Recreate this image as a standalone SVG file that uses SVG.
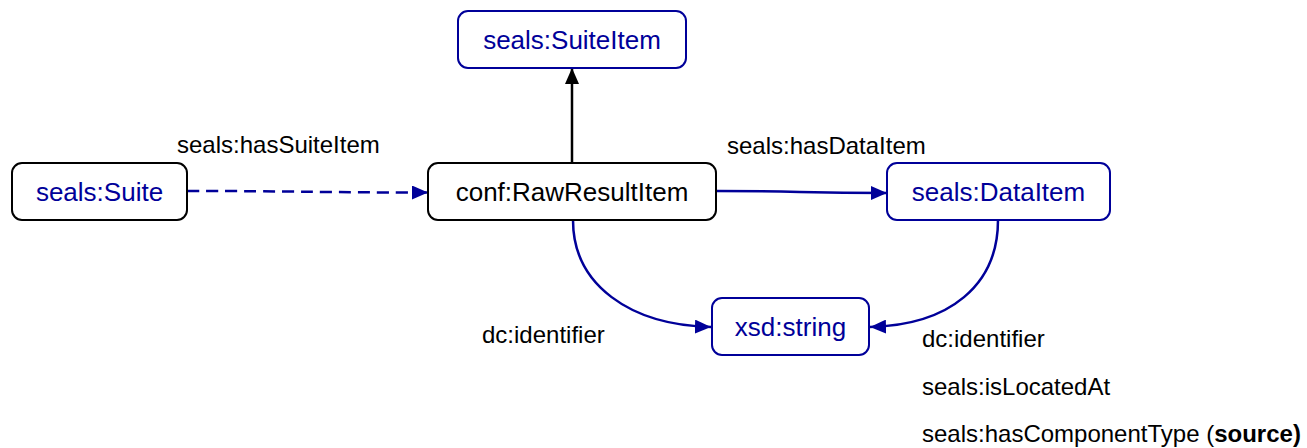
<svg xmlns="http://www.w3.org/2000/svg" width="1307" height="448" viewBox="0 0 1307 448">
<style>
.box{fill:#fff;stroke-width:2}
.blue{stroke:#000099}
.black{stroke:#000}
.nt{font-family:"Liberation Sans",Arial,sans-serif;font-size:26px;text-anchor:middle}
.nb{fill:#000099}
.nk{fill:#000}
.lbl{font-family:"Liberation Sans",Arial,sans-serif;font-size:24px;fill:#000}
.edge{fill:none;stroke-width:2.5}
</style>
<defs>
<marker id="ab" markerUnits="userSpaceOnUse" markerWidth="16" markerHeight="14" refX="16" refY="7" orient="auto">
<path d="M0,0 L16,7 L0,14 Z" fill="#000099"/>
</marker>
<marker id="ak" markerUnits="userSpaceOnUse" markerWidth="16" markerHeight="14" refX="16" refY="7" orient="auto">
<path d="M0,0 L16,7 L0,14 Z" fill="#000"/>
</marker>
</defs>
<g id="connectors">
<path class="edge black" d="M572,163 L572,68" marker-end="url(#ak)"/>
<path class="edge blue" d="M187,191 C300,191 310,192.5 428,192.5" stroke-dasharray="12,7" marker-end="url(#ab)"/>
<path class="edge blue" d="M716,191 C800,191 800,193 887,193" marker-end="url(#ab)"/>
<path class="edge blue" d="M573,220 C573,285 630,325 711,327" marker-end="url(#ab)"/>
<path class="edge blue" d="M998,220 C998,285 950,325 870,327" marker-end="url(#ab)"/>
</g>
<g id="labels">
<text class="lbl" x="177" y="153">seals:hasSuiteItem</text>
<text class="lbl" x="727" y="154">seals:hasDataItem</text>
<text class="lbl" x="482" y="343">dc:identifier</text>
<text class="lbl" x="922" y="347">dc:identifier</text>
<text class="lbl" x="922" y="395">seals:isLocatedAt</text>
<text class="lbl" x="922" y="442">seals:hasComponentType (<tspan font-weight="bold">source)</tspan></text>
</g>
<g id="node-suiteitem">
<rect class="box blue" x="458" y="11" width="228" height="57" rx="10"/>
<text class="nt nb" x="572" y="49">seals:SuiteItem</text>
</g>
<g id="node-suite">
<rect class="box black" x="12" y="163" width="175" height="57" rx="10"/>
<text class="nt nb" x="99.5" y="201">seals:Suite</text>
</g>
<g id="node-rawresultitem">
<rect class="box black" x="428" y="163" width="288" height="57" rx="10"/>
<text class="nt nk" x="572" y="201">conf:RawResultItem</text>
</g>
<g id="node-dataitem">
<rect class="box blue" x="887" y="163" width="223" height="57" rx="10"/>
<text class="nt nb" x="998.5" y="201">seals:DataItem</text>
</g>
<g id="node-xsdstring">
<rect class="box blue" x="712" y="298" width="157" height="57" rx="10"/>
<text class="nt nb" x="790.5" y="336">xsd:string</text>
</g>
</svg>
